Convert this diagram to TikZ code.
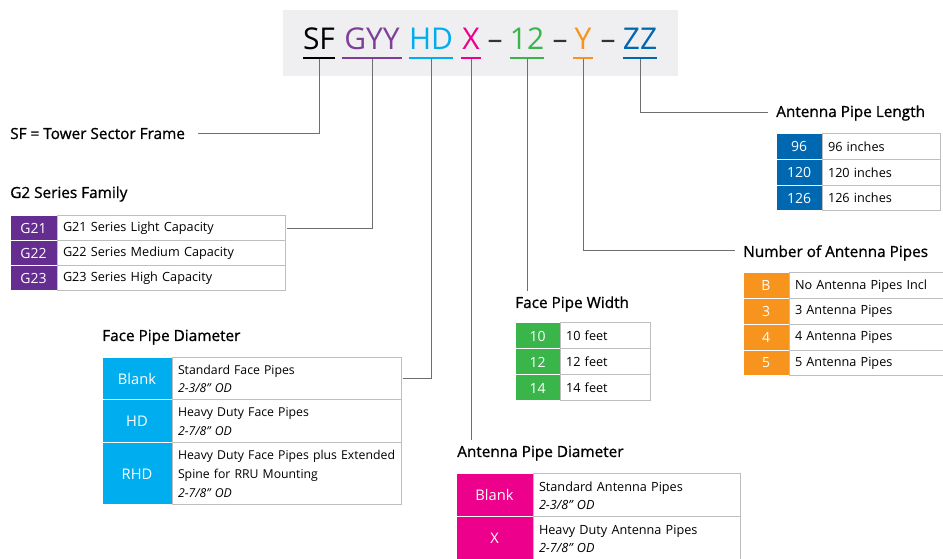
\documentclass[tikz,border=0pt]{standalone}
\usepackage{fontspec}
\setmainfont{Open Sans}
\newfontfamily\headfont[FakeBold=1]{Open Sans}
\usepackage{tikz}
\usetikzlibrary{positioning}

\definecolor{framegray}{HTML}{EFEFF1}
\definecolor{gridgray}{HTML}{BEBEBE}
\definecolor{leadgray}{HTML}{6E6E6E}
\definecolor{g2purple}{HTML}{662D91}
\definecolor{gyypurple}{HTML}{7E3F98}
\definecolor{facecyan}{HTML}{00AEEF}
\definecolor{widthgreen}{HTML}{39B54A}
\definecolor{antmagenta}{HTML}{EC008C}
\definecolor{numorange}{HTML}{F7941D}
\definecolor{lenblue}{HTML}{0067B1}

\tikzset{
  code/.style={
    font=\fontsize{22.5}{26}\selectfont,
    text=#1,
    anchor=base,
    inner sep=0pt,
    text depth=0pt,
  },
  codeline/.style={
    draw=#1,
    line width=1.5pt,
  },
  lead/.style={
    draw=leadgray,
    line width=0.75pt,
  },
  heading/.style={
    font=\headfont\fontsize{11.5}{14}\selectfont,
    anchor=base west,
    inner sep=0pt,
  },
  keycell/.style={
    fill=#1,
    draw=white,
    line width=0.75pt,
    text=white,
    inner sep=0pt,
    outer sep=0pt,
    font=\fontsize{10.5}{13.5}\selectfont,
  },
  desccell/.style={
    draw=gridgray,
    line width=0.75pt,
    inner xsep=4.5pt,
    inner ysep=0pt,
    outer sep=0pt,
    align=left,
    text width=#1,
    font=\fontsize{9.5}{13.5}\selectfont,
  },
}

\begin{document}
\begin{tikzpicture}[x=0.75pt, y=-0.75pt]
		\useasboundingbox (0,0) rectangle (943,559);

		\tikzset{
			g2key/.style={keycell=g2purple, minimum width=35.25pt, minimum height=18.75pt},
			g2desc/.style={desccell=162pt, minimum height=18.75pt},
			fpdkey/.style={keycell=facecyan, minimum width=52.5pt, font=\fontsize{11}{13.5}\selectfont},
			fpddesc/.style={desccell=163pt, font=\fontsize{9.2}{14}\selectfont},
			fpwkey/.style={keycell=widthgreen, minimum width=33.75pt, minimum height=19.5pt},
			fpwdesc/.style={desccell=58.5pt, minimum height=19.5pt},
			apdkey/.style={keycell=antmagenta, minimum width=57.75pt, minimum height=32.25pt, font=\fontsize{11}{13.5}\selectfont},
			apddesc/.style={desccell=146.25pt, minimum height=32.25pt},
			aplkey/.style={keycell=lenblue, minimum width=34.5pt, minimum height=19.25pt},
			apldesc/.style={desccell=79.5pt, minimum height=19.25pt},
			napkey/.style={keycell=numorange, minimum width=34.5pt, minimum height=19.3pt},
			napdesc/.style={desccell=106.5pt, minimum height=19.3pt}
		}

		% part number
		\fill[framegray] (283,10) rectangle (678,76);
		\node[code=black, minimum width=21pt] (cSF) at (319,50) {SF};
		\node[code=gyypurple, minimum width=45pt] (cGYY) at (372,50) {GYY};
		\node[code=facecyan, minimum width=32.25pt] (cHD) at (431,50) {HD};
		\node[code=antmagenta, minimum width=15pt] (cX) at (471,50) {X};
		\node[code=black!80] (dash1) at (495,50) {–};
		\node[code=widthgreen, minimum width=24.75pt] (c12) at (527,50) {12};
		\node[code=black!80] (dash2) at (560,50) {–};
		\node[code=numorange, minimum width=15pt] (cY) at (583,50) {Y};
		\node[code=black!80] (dash3) at (608,50) {–};
		\node[code=lenblue, minimum width=25.5pt] (cZZ) at (640,50) {ZZ};

		\foreach \c/\col in {SF/black, GYY/gyypurple, HD/facecyan, X/antmagenta,
		                     12/widthgreen, Y/numorange, ZZ/lenblue}
			\draw[codeline=\col] ([yshift=-6pt]c\c.south west) -- ([yshift=-6pt]c\c.south east);

		% headings
		\node[heading] (sfl) at (10,139) {SF = Tower Sector Frame};
		\node[heading] (g2h) at (10,198) {G2 Series Family};
		\node[heading] (fpdh) at (102,341) {Face Pipe Diameter};
		\node[heading] (fpwh) at (515,308) {Face Pipe Width};
		\node[heading] (apdh) at (457,457) {Antenna Pipe Diameter};
		\node[heading] (aplh) at (776,117) {Antenna Pipe Length};
		\node[heading] (naph) at (743,257) {Number of Antenna Pipes};

		% G2 series family
		\node[g2key, anchor=north west] (g21) at (10,216) {G21};
		\node[g2desc, right=0pt of g21] (g21d) {G21 Series Light Capacity};
		\node[g2key, below=0pt of g21] (g22) {G22};
		\node[g2desc, right=0pt of g22] (g22d) {G22 Series Medium Capacity};
		\node[g2key, below=0pt of g22] (g23) {G23};
		\node[g2desc, right=0pt of g23] (g23d) {G23 Series High Capacity};

		% face pipe diameter
		\node[fpdkey, minimum height=31.5pt, anchor=north west] (fpd1) at (102,358) {Blank};
		\node[fpddesc, minimum height=31.5pt, right=0pt of fpd1] (fpd1d) {Standard Face Pipes\\\textit{2-3/8” OD}};
		\node[fpdkey, minimum height=32.25pt, below=0pt of fpd1] (fpd2) {HD};
		\node[fpddesc, minimum height=32.25pt, right=0pt of fpd2] (fpd2d) {Heavy Duty Face Pipes\\\textit{2-7/8” OD}};
		\node[fpdkey, minimum height=46.5pt, below=0pt of fpd2] (fpd3) {RHD};
		\node[fpddesc, minimum height=46.5pt, right=0pt of fpd3] (fpd3d) {\mbox{Heavy Duty Face Pipes plus Extended}\\Spine for RRU Mounting\\\textit{2-7/8” OD}};

		% face pipe width
		\node[fpwkey, anchor=north west] (fpw1) at (515,323) {10};
		\node[fpwdesc, right=0pt of fpw1] (fpw1d) {10 feet};
		\node[fpwkey, below=0pt of fpw1] (fpw2) {12};
		\node[fpwdesc, right=0pt of fpw2] (fpw2d) {12 feet};
		\node[fpwkey, below=0pt of fpw2] (fpw3) {14};
		\node[fpwdesc, right=0pt of fpw3] (fpw3d) {14 feet};

		% antenna pipe diameter
		\node[apdkey, anchor=north west] (apd1) at (456,474) {Blank};
		\node[apddesc, right=0pt of apd1] (apd1d) {Standard Antenna Pipes\\\textit{2-3/8” OD}};
		\node[apdkey, below=0pt of apd1] (apd2) {X};
		\node[apddesc, right=0pt of apd2] (apd2d) {Heavy Duty Antenna Pipes\\\textit{2-7/8” OD}};

		% antenna pipe length
		\node[aplkey, anchor=north west] (apl1) at (776,134) {96};
		\node[apldesc, right=0pt of apl1] (apl1d) {96 inches};
		\node[aplkey, below=0pt of apl1] (apl2) {120};
		\node[apldesc, right=0pt of apl2] (apl2d) {120 inches};
		\node[aplkey, below=0pt of apl2] (apl3) {126};
		\node[apldesc, right=0pt of apl3] (apl3d) {126 inches};

		% number of antenna pipes
		\node[napkey, anchor=north west] (nap1) at (743,273) {B};
		\node[napdesc, right=0pt of nap1] (nap1d) {No Antenna Pipes Incl};
		\node[napkey, below=0pt of nap1] (nap2) {3};
		\node[napdesc, right=0pt of nap2] (nap2d) {3 Antenna Pipes};
		\node[napkey, below=0pt of nap2] (nap3) {4};
		\node[napdesc, right=0pt of nap3] (nap3d) {4 Antenna Pipes};
		\node[napkey, below=0pt of nap3] (nap4) {5};
		\node[napdesc, right=0pt of nap4] (nap4d) {5 Antenna Pipes};

		% leaders
		\draw[lead] ([yshift=-6.75pt]cSF.south) |- ([xshift=9.75pt,yshift=3.75pt]sfl.base east);
		\draw[lead] ([yshift=-6.75pt]cGYY.south) |- ([xshift=1.5pt]g21d.east);
		\draw[lead] ([yshift=-6.75pt]cHD.south) |- ([xshift=1.5pt]fpd1d.east);
		\draw[lead, shorten >=4pt] ([yshift=-6.75pt]cX.south) -- (cX.south |- apdh.north);
		\draw[lead, shorten >=4pt] ([yshift=-6.75pt]c12.south) -- (c12.south |- fpwh.north);
		\draw[lead] ([yshift=-6.75pt]cY.south) |- ([xshift=-6pt,yshift=4.5pt]naph.base west);
		\draw[lead] ([yshift=-6.75pt]cZZ.south) |- ([xshift=-6pt,yshift=3.5pt]aplh.base west);

	\end{tikzpicture}
\end{document}
